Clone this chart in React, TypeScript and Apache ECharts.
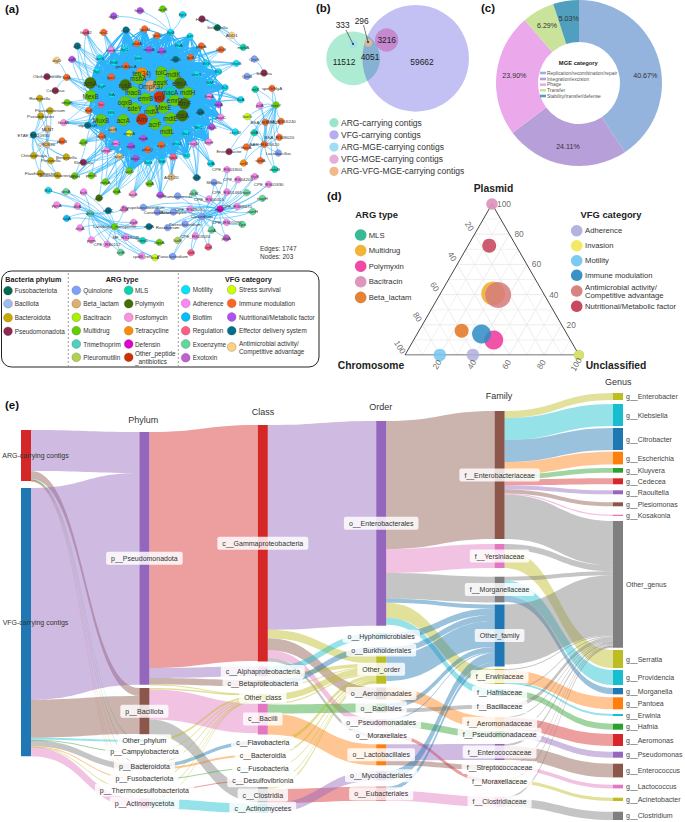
import React, { useEffect, useRef } from "react";
import * as echarts from "echarts";

const FONT = "Liberation Sans";

// ---------- (a) network ----------
const networkCategoryColors: Record<string, string> = {
  FUS: "#006B4F", BAC: "#9DBDEE", BCT: "#C9A800", PSE: "#8C2850",
  QUI: "#7F9FFF", BET: "#DDB070", BTR: "#A6F000", MUL: "#62D000", TRI: "#50D0C0", PLE: "#B0D050",
  MLS: "#00D5B0", POL: "#3F7000", FOS: "#FF90E0", TET: "#FF8C00", DEF: "#E000D0", OTH: "#D03000",
  MOT: "#00E5FF", ADH: "#FF85F5", BIO: "#00BFFF", REG: "#FF5C8A", EXE: "#5FD89A", EXT: "#C060D0",
  STR: "#CCFF00", IMM: "#FF6420", NUT: "#B050F0", EFF: "#00708A", ANT: "#FFD080",
};
// label, x, y (read at 3x of the panel), category, group
const networkNodes: [string, number, number, string, string][] = [
  ["tet(34)",425,220,"TET","h"],["tolC",484,217,"MUL","h"],["mdtK",520,224,"MUL","h"],["msbA",415,235,"MUL","h"],
  ["OmpK37",453,258,"BET","h"],["emrA",540,250,"POL","h"],["emrK",482,247,"MUL","h"],["rosB",376,255,"POL","h"],
  ["macA",510,278,"MLS","h"],["mdtH",563,278,"MUL","h"],["macB",400,277,"MUL","h"],["emrB",437,296,"MUL","h"],
  ["yojI",478,291,"OTH","h"],["emrD",524,302,"MUL","h"],["ArnF",553,311,"POL","h"],["oqxB",375,306,"MUL","h"],
  ["sdeY",404,325,"MUL","h"],["mdfA",455,333,"MUL","h"],["MexE",490,323,"MUL","h"],["rosA",547,347,"POL","h"],
  ["mdtE",512,355,"MUL","h"],["Amr",426,358,"OTH","h"],["acrA",370,360,"MUL","h"],["acrF",465,372,"MUL","h"],
  ["mdtL",501,394,"MUL","h"],["MexB",272,288,"MUL","h"],["MuxB",303,360,"MUL","h"],["arnA",271,249,"POL","h"],
  ["fur",303,314,"REG","r"],["rfaE",266,331,"IMM","r"],["flgF",306,259,"MOT","r"],["fliA",336,284,"MOT","r"],["fliN",334,338,"MOT","r"],
  ["clpV/tssH",263,376,"EFF","r"],["acrB",338,389,"BET","r"],["ompA",388,400,"STR","r"],["rcsB",305,408,"IMM","r"],["fepA",430,415,"NUT","r"],
  ["fimC",348,430,"ADH","r"],["entB",393,438,"NUT","r"],["cgsI",484,435,"IMM","r"],["phoQ",443,449,"IMM","r"],["cheZ",531,430,"MOT","r"],
  ["flaJ",558,399,"MOT","r"],["csgD",581,431,"ADH","r"],["flhC",596,381,"MOT","r"],["chuS",635,381,"NUT","r"],["vipA",601,336,"EFF","r"],
  ["iucA",656,314,"NUT","r"],["papC",662,352,"ADH","r"],["fimH",626,426,"ADH","r"],["cheW",706,396,"MOT","r"],["ompD",320,452,"ADH","r"],
  ["algU",358,469,"ANT","r"],["tepC",407,475,"NUT","r"],["flaG",445,487,"MOT","r"],["flhE",486,484,"MOT","r"],["rpoS",520,471,"REG","r"],
  ["fliC",560,466,"MOT","r"],["lafA",633,491,"MOT","r"],["ACT-20",514,531,"BET","r"],["tssB",590,533,"EFF","r"],["acrD",388,513,"MUL","r"],
  ["fepA2",258,97,"REG","r"],["rcsC",311,97,"IMM","r"],["cesT",378,90,"EFF","r"],["kpsM",434,87,"IMM","r"],["lpxD",471,107,"IMM","r"],
  ["flgB",512,97,"MOT","r"],["fliP",570,109,"MOT","r"],["sctC",232,138,"EFF","r"],["fimB",333,150,"ADH","r"],["flgC",373,149,"MOT","r"],
  ["gndA",411,131,"IMM","r"],["muxA",447,149,"NUT","r"],["acnB",485,153,"NUT","r"],["pbpA",604,138,"IMM","r"],["flhA",537,137,"MOT","r"],
  ["kdsB",663,149,"IMM","r"],["lptB",572,172,"IMM","r"],["esaG",527,178,"EFF","r"],["iroN",216,178,"NUT","r"],["lpxS",300,174,"MOT","r"],
  ["flhB",342,187,"MOT","r"],["fliH",415,175,"MOT","r"],["gmhA/lpcA",378,198,"IMM","r"],["fliG",619,191,"MOT","r"],["cheB",709,190,"MOT","r"],
  ["flgI",290,213,"MOT","r"],["fliQ",655,215,"MOT","r"],["lpxC",334,231,"IMM","r"],["cheY",590,222,"MOT","r"],["tufA",200,232,"IMM","r"],
  ["fliM",630,248,"MOT","r"],["fliZ",675,263,"MOT","r"],["flaA",722,299,"MOT","r"],["fimA",628,290,"ADH","r"],["pmrB",274,527,"MUL","r"],
  ["mrkA",316,546,"MUL","r"],["tetA",350,574,"MUL","r"],["fosB",399,582,"FOS","r"],["arnT",297,594,"POL","r"],["lpxA",449,551,"MUL","r"],
  ["luxS",481,585,"NUT","r"],["ompF",201,308,"MUL","r"],["fosA5",191,368,"FOS","r"],["acrE",250,427,"MUL","r"],["ugdH",224,528,"MUL","r"],
  ["Klebsiella",250,487,"PSE","r"],
  ["ahpC",341,48,"NUT","A"],["hemL",420,32,"NUT","A"],["acrR",488,27,"MUL","A"],["flgG",548,44,"MOT","A"],
  ["Hafnia",606,57,"PSE","T"],["Sebaldella",652,83,"FUS","T"],["AGD1",695,106,"ANT","T"],["mphA",730,142,"MLS","T"],
  ["QnrS",763,177,"QUI","S"],["Serratia",792,219,"PSE","S"],["QnrB",741,229,"QUI","S"],
  ["algD",170,181,"ANT","Q"],["Oleiharenicola",141,230,"PSE","Q"],["Cellulosa",166,272,"PSE","Q"],
  ["Riemerella",119,295,"BCT","L"],["Flavobacterium",150,332,"BCT","L"],["Pseudobacter",122,348,"BCT","L"],["MLNT",143,387,"BET","L"],
  ["ETAE_RS10930",100,405,"EFF","L"],["Q8CK36",140,434,"BET","L"],["Chitinophaga",101,467,"BCT","L"],["Prevotella",152,482,"BCT","L"],
  ["Bergeyella",199,471,"BCT","L"],["Flavihumibacter",121,520,"BCT","L"],["Sediminibacterium",173,526,"BCT","L"],["pbeB",186,423,"IMM","L"],
  ["tetX",766,268,"MLS","R"],["speG/hlyA",816,265,"IMM","R"],["pilA",779,316,"ADH","R"],["emrY",828,315,"MUL","R"],["katG",742,350,"STR","R"],
  ["BSA_RS16240",843,364,"IMM","R"],["BSA_RS15125",796,367,"IMM","R"],["nrfA",763,398,"MLS","R"],["BSA_RS08020",838,412,"IMM","R"],
  ["BAS_RS05620",793,433,"IMM","R"],["Lactobacillus",835,459,"QUI","R"],["msrA",739,441,"IMM","R"],["Enterobacter",687,455,"PSE","R"],
  ["sodA",781,482,"IMM","R"],["tetM",731,489,"TET","R"],["ermB",824,508,"MLS","R"],
  ["CPE_RS01800",681,509,"ADH","B"],["Shigella",642,547,"QUI","B"],["CPE_RS04205",714,539,"ADH","B"],["hlyB",764,530,"ADH","B"],
  ["CPE_RS01830",806,553,"ADH","B"],["CPE_RS01465",681,576,"ADH","B"],["nanI",740,578,"EXE","B"],["nagH",787,595,"EXE","B"],
  ["CPE_RS00415",627,597,"ADH","B"],["plcR",581,579,"EXE","B"],["Ruminococcus",533,588,"QUI","B"],["mprF",660,627,"DEF","B"],
  ["CPE_RS09470",711,619,"ADH","B"],["nanH",758,635,"EXE","B"],["CPE_RS05030",570,628,"ADH","B"],["Clostridium",605,650,"QUI","B"],
  ["Cuneatibacter",472,636,"QUI","B"],["Erysipelatoclostridium",430,622,"QUI","B"],["Anaerostipes",520,636,"QUI","B"],
  ["CPE_RS01070",680,667,"ADH","B"],["cpe",727,673,"EXE","B"],["Paeniclostridium",555,672,"QUI","B"],["colA",635,690,"EXE","B"],
  ["Roseburium",503,683,"QUI","B"],["pfoA",679,714,"EXT","B"],["lsaE",533,721,"PLE","B"],["CPE_RS03020",586,708,"ADH","B"],
  ["virR",625,741,"REG","B"],["virS",573,758,"REG","B"],["Paraclostridium",518,769,"QUI","B"],
  ["lexA",465,773,"STR","C"],["cpdB_ref",425,768,"ADH","C"],["oqxA",478,727,"MUL","C"],["ermC",428,722,"MLS","C"],["srtB",362,757,"EXE","C"],
  ["CPE_RS0112",321,733,"ADH","C"],["pgm",274,720,"ADH","C"],["MF_RS18245",378,712,"ADH","C"],["Lantibiotic_transporter",344,680,"MUL","C"],
  ["clpE",401,667,"ADH","C"],["esxA",447,680,"EFF","C"],["atoB",372,627,"ADH","C"],["esaC",325,632,"EFF","C"],["dfrG",270,640,"TRI","C"],
  ["dltA",232,618,"ADH","C"],["pgsA",170,615,"ADH","C"],["flhD",145,571,"MOT","C"],["prsA",198,575,"EXE","C"],["bsh",251,576,"ADH","C"],
  ["icaA",200,655,"BIO","C"],["efaA",240,684,"ADH","C"],
];
const clusterCentres: Record<string, string[]> = {
  A: ["flgB"], T: ["Sebaldella", "AGD1"], S: ["Serratia"], Q: ["tufA"],
  L: ["ETAE_RS10930", "Q8CK36"], R: ["emrY", "BAS_RS05620"],
  B: ["mprF", "Clostridium"], C: ["dfrG", "Lantibiotic_transporter"],
};
const networkStats = ["Edges: 1747", "Nodes: 203"];

// ---------- (b) venn ----------
const vennSets = ["ARG-carrying contigs", "VFG-carrying contigs", "ARG-MGE-carrying contigs", "VFG-MGE-carrying contigs", "ARG-VFG-MGE-carrying contigs"];
const vennLegendColors = ["#9AE6C8", "#B4AEF0", "#9FDDF5", "#E6AEDB", "#F0B98A"];
const vennCounts = ["11512", "4051", "3216", "59662", "333", "296"];
const vennCircles: [number, number, number, string][] = [
  [99.5, 175, 80.5, "#9AE6C8"],
  [287, 175, 160, "rgba(13,0,206,0.31)"],
  [200, 120, 35, "rgba(200,80,170,0.62)"],
  [100, 132, 12, "#9FDDF5"],
  [145, 128, 12, "#F0B98A"],
];

// ---------- (c) donut ----------
const mgeNames = ["Replication/recombination/repair", "Integration/excision", "Phage", "Transfer", "Stability/transfer/defense"];
const mgeValues = [40.67, 24.11, 23.9, 6.29, 5.03];
const mgeColors = ["#94B3DD", "#B79FDA", "#EBA9EC", "#C9E49A", "#519FBF"];

// ---------- (d) ternary: [chromosome, plasmid, unclassified] ----------
const argTypes = ["MLS", "Multidrug", "Polymyxin", "Bacitracin", "Beta_lactam"];
const argTernary = [[0, 0, 100], [28.9, 40.8, 30.3], [44, 10, 46], [0, 100, 0], [59.4, 16.1, 24.5]];
const argColors = ["#2FB58F", "#F0B030", "#F040A0", "#DD90BB", "#E37B2B"];
const argSizes = [10, 24, 19, 11.5, 14];
const vfgTypes = ["Adherence", "Invasion", "Motility", "Immune modulation", "Antimicrobial activity/\nCompetitive advantage", "Nutritional/Metabolic factor"];
const vfgTernary = [[61, 0, 39], [0, 0, 100], [80, 0, 20], [49, 13.9, 37], [26.6, 39.7, 33.7], [15.4, 72.4, 12.2]];
const vfgColors = ["#B0AEDC", "#F2E85F", "#75C6F0", "#2D8CC4", "#D67B7B", "#C43F55"];
const vfgSizes = [12.5, 10, 12.5, 19, 26, 14];
const ternaryTicks = [20, 40, 60, 80, 100];

// ---------- (e) sankey ----------
const C = { blue: "#1f77b4", orange: "#ff7f0e", green: "#2ca02c", red: "#d62728", purple: "#9467bd", brown: "#8c564b", pink: "#e377c2", gray: "#7f7f7f", olive: "#bcbd22", cyan: "#17becf" };
const sourceNames = ["ARG-carrying contigs", "VFG-carrying contigs"];
const sourceTops = [430, 488];
const sourceColors = [C.red, C.blue];
const phylumNames = ["p__Pseudomonadota", "p__Bacillota", "Other_phylum", "p__Campylobacterota", "p__Bacteroidota", "p__Fusobacteriota", "p__Thermodesulfobacteriota", "p__Actinomycetota"];
const phylumTops = [432, 688, 739.5, 751.5, 763.5, 778.3, 789.7, 798.5];
const phylumColors = [C.purple, C.brown, C.cyan, C.green, C.gray, C.orange, C.olive, C.pink];
const classNames = ["c__Gammaproteobacteria", "c__Alphaproteobacteria", "c__Betaproteobacteria", "Other_class", "c__Bacilli", "c__Flavobacteria", "c__Bacteroidia", "c__Fusobacteria", "c__Desulfovibrionia", "c__Clostridia", "c__Actinomycetes"];
const classTops = [425, 666.5, 680, 694, 703.3, 741, 754.5, 768, 780.5, 787, 803.5];
const classColors = [C.red, C.purple, C.brown, C.olive, C.pink, C.blue, C.orange, C.green, C.red, C.gray, C.cyan];
const orderNames = ["o__Enterobacterales", "o__Hyphomicrobiales", "o__Burkholderiales", "Other_order", "o__Aeromonadales", "o__Bacillales", "o__Pseudomonadales", "o__Moraxellales", "o__Lactobacillales", "o__Mycobacteriales", "o__Eubacteriales"];
const orderTops = [421, 633, 647, 655, 687.5, 703.5, 719, 734, 744.3, 771, 786.7];
const orderColors = [C.purple, C.cyan, C.blue, C.olive, C.brown, C.green, C.pink, C.gray, C.orange, C.purple, C.red];
const familyNames = ["f__Enterobacteriaceae", "f__Yersiniaceae", "f__Morganellaceae", "Other_family", "f__Erwiniaceae", "f__Hafniaceae", "f__Bacillaceae", "f__Aeromonadaceae", "f__Pseudomonadaceae", "f__Enterococcaceae", "f__Streptococcaceae", "f__Moraxellaceae", "f__Clostridiaceae"];
const familyTops = [411, 544, 576.7, 604.5, 669, 689, 704.7, 717, 731, 744, 765, 779.5, 796.7];
const familyColors = [C.brown, C.pink, C.gray, C.blue, C.olive, C.cyan, C.gray, C.orange, C.green, C.purple, C.brown, C.red, C.pink];
const genusNames = ["g__Enterobacter", "g__Klebsiella", "g__Citrobacter", "g__Escherichia", "g__Kluyvera", "g__Cedecea", "g__Raoultella", "g__Plesiomonas", "g__Kosakonia", "Other_genus", "g__Serratia", "g__Providencia", "g__Morganella", "g__Pantoea", "g__Erwinia", "g__Hafnia", "g__Aeromonas", "g__Pseudomonas", "g__Enterococcus", "g__Lactococcus", "g__Acinetobacter", "g__Clostridium"];
const genusTops = [393, 404, 428, 451.7, 468, 478.3, 490.3, 502.3, 514.7, 521, 650, 670, 688, 697.3, 714, 723.7, 734, 751.7, 763.7, 784.7, 797.7, 811.7];
const genusColors = [C.olive, C.cyan, C.blue, C.orange, C.green, C.red, C.purple, C.brown, C.pink, C.gray, C.olive, C.cyan, C.blue, C.orange, C.cyan, C.green, C.red, C.purple, C.brown, C.pink, C.olive, C.gray];

type Flow = [string, string, number];
const sourceFlows: Flow[] = [
  ["ARG-carrying contigs", "p__Pseudomonadota", 41], ["ARG-carrying contigs", "p__Bacillota", 8], ["ARG-carrying contigs", "Other_phylum", 0.4],
  ["ARG-carrying contigs", "p__Campylobacterota", 0.3], ["ARG-carrying contigs", "p__Bacteroidota", 0.5], ["ARG-carrying contigs", "p__Fusobacteriota", 0.2],
  ["ARG-carrying contigs", "p__Thermodesulfobacteriota", 0.2], ["ARG-carrying contigs", "p__Actinomycetota", 0.4],
  ["VFG-carrying contigs", "p__Pseudomonadota", 211.7], ["VFG-carrying contigs", "p__Bacillota", 38], ["VFG-carrying contigs", "Other_phylum", 2],
  ["VFG-carrying contigs", "p__Campylobacterota", 0.5], ["VFG-carrying contigs", "p__Bacteroidota", 6], ["VFG-carrying contigs", "p__Fusobacteriota", 0.5],
  ["VFG-carrying contigs", "p__Thermodesulfobacteriota", 0.5], ["VFG-carrying contigs", "p__Actinomycetota", 9],
];
const phylumFlows: Flow[] = [
  ["p__Pseudomonadota", "c__Gammaproteobacteria", 236], ["p__Pseudomonadota", "c__Alphaproteobacteria", 10], ["p__Pseudomonadota", "c__Betaproteobacteria", 6.5], ["p__Pseudomonadota", "Other_class", 0.2],
  ["p__Bacillota", "Other_class", 1.5], ["p__Bacillota", "c__Bacilli", 30], ["p__Bacillota", "c__Clostridia", 15],
  ["Other_phylum", "Other_class", 2.4], ["p__Campylobacterota", "Other_class", 0.8],
  ["p__Bacteroidota", "Other_class", 0.8], ["p__Bacteroidota", "c__Flavobacteria", 3.5], ["p__Bacteroidota", "c__Bacteroidia", 2],
  ["p__Fusobacteriota", "Other_class", 0.3], ["p__Fusobacteriota", "c__Fusobacteria", 0.4],
  ["p__Thermodesulfobacteriota", "Other_class", 0.2], ["p__Thermodesulfobacteriota", "c__Desulfovibrionia", 0.5],
  ["p__Actinomycetota", "Other_class", 0.4], ["p__Actinomycetota", "c__Actinomycetes", 9.5],
];
const classFlows: Flow[] = [
  ["c__Gammaproteobacteria", "o__Enterobacterales", 204.7], ["c__Gammaproteobacteria", "Other_order", 8.5], ["c__Gammaproteobacteria", "o__Aeromonadales", 12],
  ["c__Gammaproteobacteria", "o__Pseudomonadales", 7.7], ["c__Gammaproteobacteria", "o__Moraxellales", 3.6],
  ["c__Alphaproteobacteria", "o__Hyphomicrobiales", 6.5], ["c__Alphaproteobacteria", "Other_order", 3.5],
  ["c__Betaproteobacteria", "o__Burkholderiales", 6], ["c__Betaproteobacteria", "Other_order", 0.5],
  ["Other_class", "Other_order", 6.6],
  ["c__Bacilli", "Other_order", 1.2], ["c__Bacilli", "o__Bacillales", 9], ["c__Bacilli", "o__Lactobacillales", 21],
  ["c__Flavobacteria", "Other_order", 3.5], ["c__Bacteroidia", "Other_order", 2], ["c__Fusobacteria", "Other_order", 0.4], ["c__Desulfovibrionia", "Other_order", 0.5],
  ["c__Clostridia", "Other_order", 2], ["c__Clostridia", "o__Eubacteriales", 14],
  ["c__Actinomycetes", "o__Mycobacteriales", 9.5],
];
const orderFlows: Flow[] = [
  ["o__Enterobacterales", "f__Enterobacteriaceae", 128], ["o__Enterobacterales", "f__Yersiniaceae", 24], ["o__Enterobacterales", "f__Morganellaceae", 25.7],
  ["o__Enterobacterales", "Other_family", 4], ["o__Enterobacterales", "f__Erwiniaceae", 15], ["o__Enterobacterales", "f__Hafniaceae", 7],
  ["o__Hyphomicrobiales", "Other_family", 6.5], ["o__Burkholderiales", "Other_family", 6], ["Other_order", "Other_family", 26],
  ["o__Aeromonadales", "f__Aeromonadaceae", 12], ["o__Bacillales", "Other_family", 5], ["o__Bacillales", "f__Bacillaceae", 4],
  ["o__Pseudomonadales", "Other_family", 1], ["o__Pseudomonadales", "f__Pseudomonadaceae", 6.7], ["o__Moraxellales", "f__Moraxellaceae", 3.6],
  ["o__Lactobacillales", "f__Enterococcaceae", 16], ["o__Lactobacillales", "f__Streptococcaceae", 5],
  ["o__Mycobacteriales", "Other_family", 9.5], ["o__Eubacteriales", "Other_family", 4], ["o__Eubacteriales", "f__Clostridiaceae", 10],
];
const familyFlows: Flow[] = [
  ["f__Enterobacteriaceae", "g__Enterobacter", 7], ["f__Enterobacteriaceae", "g__Klebsiella", 22], ["f__Enterobacteriaceae", "g__Citrobacter", 22],
  ["f__Enterobacteriaceae", "g__Escherichia", 12.7], ["f__Enterobacteriaceae", "g__Kluyvera", 4.7], ["f__Enterobacteriaceae", "g__Cedecea", 6],
  ["f__Enterobacteriaceae", "g__Raoultella", 4], ["f__Enterobacteriaceae", "g__Plesiomonas", 4], ["f__Enterobacteriaceae", "g__Kosakonia", 1.3], ["f__Enterobacteriaceae", "Other_genus", 44.3],
  ["f__Yersiniaceae", "Other_genus", 6], ["f__Yersiniaceae", "g__Serratia", 18],
  ["f__Morganellaceae", "Other_genus", 4], ["f__Morganellaceae", "g__Providencia", 15], ["f__Morganellaceae", "g__Morganella", 6.3],
  ["Other_family", "Other_genus", 60],
  ["f__Erwiniaceae", "Other_genus", 1], ["f__Erwiniaceae", "g__Pantoea", 12], ["f__Erwiniaceae", "g__Erwinia", 2],
  ["f__Hafniaceae", "Other_genus", 1], ["f__Hafniaceae", "g__Hafnia", 6],
  ["f__Bacillaceae", "Other_genus", 4],
  ["f__Aeromonadaceae", "Other_genus", 0.7], ["f__Aeromonadaceae", "g__Aeromonas", 12],
  ["f__Pseudomonadaceae", "Other_genus", 0.7], ["f__Pseudomonadaceae", "g__Pseudomonas", 6],
  ["f__Enterococcaceae", "Other_genus", 2], ["f__Enterococcaceae", "g__Enterococcus", 13.7],
  ["f__Streptococcaceae", "Other_genus", 1], ["f__Streptococcaceae", "g__Lactococcus", 3.7],
  ["f__Moraxellaceae", "Other_genus", 0.3], ["f__Moraxellaceae", "g__Acinetobacter", 3.3],
  ["f__Clostridiaceae", "Other_genus", 1.7], ["f__Clostridiaceae", "g__Clostridium", 8.3],
];
const sankeyHeaders: [string, number, number][] = [["Phylum", 143.3, 420], ["Class", 263, 412.3], ["Order", 380.7, 407.3], ["Family", 499, 395.7], ["Genus", 618.3, 382.3]];

// ---------- legend of (a) ----------
const phylumLegend: [string, string][] = [["Fusobacteriota", "FUS"], ["Bacillota", "BAC"], ["Bacteroidota", "BCT"], ["Pseudomonadota", "PSE"]];
const argLegendA: [string, string][] = [["Quinolone", "QUI"], ["Beta_lactam", "BET"], ["Bacitracin", "BTR"], ["Multidrug", "MUL"], ["Trimethoprim", "TRI"], ["Pleuromutilin", "PLE"]];
const argLegendB: [string, string][] = [["MLS", "MLS"], ["Polymyxin", "POL"], ["Fosfomycin", "FOS"], ["Tetracycline", "TET"], ["Defensin", "DEF"], ["Other_peptide\n_antibiotics", "OTH"]];
const vfgLegendA: [string, string][] = [["Motility", "MOT"], ["Adherence", "ADH"], ["Biofilm", "BIO"], ["Regulation", "REG"], ["Exoenzyme", "EXE"], ["Exotoxin", "EXT"]];
const vfgLegendB: [string, string][] = [["Stress survival", "STR"], ["Immune modulation", "IMM"], ["Nutritional/Metabolic factor", "NUT"], ["Effector delivery system", "EFF"], ["Antimicrobial activity/\nCompetitive advantage", "ANT"]];

function buildOption() {
  const col = networkCategoryColors;
  // network
  const idx = (label: string) => networkNodes.findIndex((n) => n[0] === label);
  const hubs: number[] = [];
  const rings: number[] = [];
  networkNodes.forEach((n, i) => { if (n[4] === "h") hubs.push(i); if (n[4] === "r") rings.push(i); });
  const isFar = (i: number) => Math.hypot(networkNodes[i][1] - 460, networkNodes[i][2] - 300) > 235;
  const thin = { width: 0.55 };
  const links: any[] = [];
  hubs.forEach((h, a) => {
    rings.forEach((r, b) => {
      const far = isFar(r);
      if (far ? a % 4 === b % 4 : (a + b) % 3 !== 0) links.push(far ? { source: h, target: r, lineStyle: thin } : { source: h, target: r });
    });
    hubs.forEach((h2, c) => { if (c > a) links.push({ source: h, target: h2 }); });
  });
  const nearRings = rings.filter((r) => !isFar(r));
  nearRings.forEach((r, i) => {
    [19, 37].forEach((step) => links.push({ source: r, target: nearRings[(i + step) % nearRings.length] }));
  });
  networkNodes.forEach((n, i) => {
    const centres = clusterCentres[n[4]];
    if (!centres) return;
    centres.forEach((c) => { const j = idx(c); if (j >= 0 && j !== i) links.push({ source: i, target: j, lineStyle: thin }); });
  });
  const graphSeries = {
    type: "graph", coordinateSystem: "cartesian2d", xAxisIndex: 0, yAxisIndex: 0, silent: true, z: 2,
    data: networkNodes.map((n, i) => ({
      id: "n" + i, name: n[0], value: [n[1], n[2]],
      symbolSize: n[4] === "h" ? 11.5 : 6.8,
      itemStyle: { color: col[n[3]], borderColor: "#777", borderWidth: 0.3 },
      label: { show: true, position: "inside", formatter: n[0], color: "#333", fontSize: n[4] === "h" ? 6.4 : 4.4 },
    })),
    links,
    lineStyle: { color: "#2CB3FB", width: 1.2, opacity: 1, curveness: 0.14 },
    emphasis: { disabled: true },
  };

  // venn
  const vennSeries = {
    type: "scatter", xAxisIndex: 1, yAxisIndex: 1, silent: true, z: 2,
    data: vennCircles.map((c) => ({ value: [c[0], c[1]], symbolSize: (c[2] * 2) / 3, itemStyle: { color: c[3] } })),
  };

  // donut
  const pieSeries = {
    type: "pie", center: [579, 83], radius: [41, 83], startAngle: 90, clockwise: true, silent: true,
    data: mgeNames.map((name, i) => ({
      name, value: mgeValues[i], itemStyle: { color: mgeColors[i] },
      label: { offset: i === 0 ? [4, 12] : [0, 0] },
    })),
    label: { position: "inside", formatter: (p: any) => p.value.toFixed(2) + "%", fontSize: 7.1, color: "#333" },
    labelLine: { show: false },
  };

  // ternary
  const proj = (c: number, p: number, u: number) => {
    const s = c + p + u;
    return [(u + p / 2) / s, p / s];
  };
  const ternLine = (a: number[], b: number[], color: string, width: number) => ({
    type: "line", xAxisIndex: 2, yAxisIndex: 2, silent: true, showSymbol: false, symbol: "none", z: 1, animation: false,
    data: [a, b], lineStyle: { color, width },
  });
  const ternGrid: any[] = [];
  for (let k = 10; k < 100; k += 10) {
    const lineColor = "#ebebeb";
    ternGrid.push(ternLine(proj(100 - k, k, 0), proj(0, k, 100 - k), lineColor, k % 20 === 0 ? 1 : 0.7));
    ternGrid.push(ternLine(proj(100 - k, 0, k), proj(0, 100 - k, k), lineColor, k % 20 === 0 ? 1 : 0.7));
    ternGrid.push(ternLine(proj(k, 100 - k, 0), proj(k, 0, 100 - k), lineColor, k % 20 === 0 ? 1 : 0.7));
  }
  ternGrid.push(ternLine(proj(100, 0, 0), proj(0, 0, 100), "#444", 1));
  ternGrid.push(ternLine(proj(0, 0, 100), proj(0, 100, 0), "#444", 1));
  ternGrid.push(ternLine(proj(0, 100, 0), proj(100, 0, 0), "#444", 1));
  const ternPoints = (vals: number[][], colors: string[], sizes: number[], opacity: number) => ({
    type: "scatter", xAxisIndex: 2, yAxisIndex: 2, silent: true, z: 3,
    data: vals.map((v, i) => ({ value: proj(v[0], v[1], v[2]), symbolSize: sizes[i], itemStyle: { color: colors[i], opacity } })),
  });
  const ternLabels = (fn: (t: number) => number[], rotate: number, offset: number[], align: string) => ({
    type: "scatter", xAxisIndex: 2, yAxisIndex: 2, silent: true, z: 4, symbolSize: 1,
    itemStyle: { color: "rgba(0,0,0,0)" },
    data: ternaryTicks.map((t) => ({ value: fn(t), name: String(t) })),
    label: { show: true, position: "inside", formatter: "{b}", rotate, offset, align, fontSize: 8.4, color: "#444" },
  });

  // sankey
  const allNames = [sourceNames, phylumNames, classNames, orderNames, familyNames, genusNames];
  const allTops = [sourceTops, phylumTops, classTops, orderTops, familyTops, genusTops];
  const allColors = [sourceColors, phylumColors, classColors, orderColors, familyColors, genusColors];
  const allFlows = [...sourceFlows, ...phylumFlows, ...classFlows, ...orderFlows, ...familyFlows];
  const colorOf: Record<string, string> = {};
  allNames.forEach((ns, i) => ns.forEach((n, j) => { colorOf[n] = allColors[i][j]; }));
  const throughput = (n: string) => Math.max(
    allFlows.filter((f) => f[0] === n).reduce((s, f) => s + f[2], 0),
    allFlows.filter((f) => f[1] === n).reduce((s, f) => s + f[2], 0));
  const sankeyHeight = Math.max(...allNames.map((ns) => ns.reduce((s, n) => s + throughput(n), 0)));
  const sankeyNodes: any[] = [];
  allNames.forEach((ns, c) => ns.forEach((n, j) => {
    const base: any = {
      name: n, localY: allTops[c][j] / sankeyHeight,
      itemStyle: { color: allColors[c][j], opacity: 1 },
    };
    if (c === 5) {
      base.label = { position: "right", distance: 3, backgroundColor: "transparent", padding: 0, color: "#444" };
    } else if (c === 0) {
      base.label = { position: "inside", offset: [9.5, 0], backgroundColor: "transparent", padding: 0 };
    }
    sankeyNodes.push(base);
  }));
  const sankeySeries = {
    type: "sankey", left: 21, top: 0, width: 602, height: sankeyHeight, nodeWidth: 10, nodeGap: 0, layoutIterations: 0,
    nodeAlign: "justify", draggable: false, silent: true, z: 5,
    emphasis: { disabled: true },
    data: sankeyNodes,
    links: allFlows.map((f) => ({ source: f[0], target: f[1], value: f[2], lineStyle: { color: colorOf[f[1]], opacity: 0.45 } })),
    lineStyle: { curveness: 0.5 },
    itemStyle: { borderWidth: 0 },
    label: {
      show: true, position: "inside", fontSize: 7, color: "#333",
      backgroundColor: "rgba(255,255,255,0.82)", borderRadius: 2, padding: [3, 5],
    },
  };

  // graphics
  const g: any[] = [];
  const txt = (x: number, y: number, text: string, o: any = {}) => g.push({
    type: "text", x, y, silent: true, z: 20,
    style: { text, fontFamily: FONT, fontSize: o.size ?? 7, fontWeight: o.bold ? "bold" : "normal", fill: o.fill ?? "#333", textAlign: o.align ?? "left", textVerticalAlign: "middle", lineHeight: o.lh },
  });
  const dot = (x: number, y: number, r: number, fill: string, opacity = 1, stroke = 0) => g.push({
    type: "circle", x, y, silent: true, z: 19, shape: { r }, style: { fill, opacity, stroke: "#555", lineWidth: stroke },
  });
  // panel letters
  ([["(a)", 5, 9], ["(b)", 316, 8], ["(c)", 481, 8], ["(d)", 327, 196], ["(e)", 5, 405]] as [string, number, number][]).forEach(([s, x, y]) => txt(x, y, s, { size: 11.5, bold: true, fill: "#111" }));
  // network stats
  networkStats.forEach((s, i) => txt(260, 248 + i * 8, s, { size: 6.5 }));
  // legend box of (a)
  g.push({ type: "rect", silent: true, z: 18, shape: { x: 1.5, y: 271, width: 317.5, height: 96, r: 10 }, style: { fill: "#fff", stroke: "#222", lineWidth: 1 } });
  [68.3, 178.3].forEach((x) => g.push({ type: "line", silent: true, z: 19, shape: { x1: x, y1: 273, x2: x, y2: 366 }, style: { stroke: "#777", lineWidth: 0.7, lineDash: [2, 2] } }));
  txt(33.3, 279, "Bacteria phylum", { size: 7.2, bold: true, align: "center", fill: "#222" });
  txt(122, 279, "ARG type", { size: 7.2, bold: true, align: "center", fill: "#222" });
  txt(248.3, 279, "VFG category", { size: 7.2, bold: true, align: "center", fill: "#222" });
  const legendCol = (items: [string, string][], dx: number, tx: number, ys: number[]) => items.forEach(([s, k], i) => {
    dot(dx, ys[i], 4.4, col[k], 1, 0.3);
    txt(tx, ys[i], s, { size: 6.4, lh: 8 });
  });
  legendCol(phylumLegend, 8, 14.7, [290.7, 303.7, 317.7, 331.3]);
  const rowsA = [290.3, 303.7, 317.3, 330.7, 344, 357.3];
  legendCol(argLegendA, 76.3, 83.3, rowsA);
  legendCol(argLegendB, 128.7, 135, rowsA);
  const rowsB = [289.7, 303.3, 317, 330.7, 344, 357.7];
  legendCol(vfgLegendA, 185.7, 192.7, rowsB);
  legendCol(vfgLegendB, 231.7, 239, [289.7, 303.3, 317, 330.7, 347]);
  // venn texts
  const vennTextPos = [[344, 61.7], [370, 56.7], [386.7, 40], [422, 62], [342.7, 25.3], [361.7, 20.7]];
  vennCounts.forEach((s, i) => txt(vennTextPos[i][0], vennTextPos[i][1], s, { size: 8.4, align: "center", fill: "#222" }));
  [[346, 30, 353, 44], [363.5, 25, 368, 42]].forEach(([x1, y1, x2, y2]) => {
    g.push({ type: "line", silent: true, z: 19, shape: { x1, y1, x2, y2 }, style: { stroke: "#222", lineWidth: 0.6 } });
    g.push({ type: "circle", silent: true, z: 19, x: x2, y: y2, shape: { r: 0.9 }, style: { fill: "#222" } });
  });
  vennSets.forEach((s, i) => {
    const y = 122.7 + i * 12.15;
    dot(334, y, 4.6, vennLegendColors[i]);
    txt(341, y, s, { size: 8.5 });
  });
  // donut centre legend
  txt(578.3, 63.3, "MGE category", { size: 5.8, bold: true, align: "center", fill: "#222" });
  const mgeY = [73, 79, 84.7, 90.3, 96];
  mgeNames.forEach((s, i) => {
    g.push({ type: "rect", silent: true, z: 19, shape: { x: 540, y: mgeY[i] - 1.3, width: 6, height: 2.6 }, style: { fill: mgeColors[i] } });
    txt(547, mgeY[i], s, { size: 4.9, fill: "#555" });
  });
  // ternary corner names and legends
  txt(493.5, 188, "Plasmid", { size: 10.3, bold: true, align: "center", fill: "#222" });
  txt(371, 365, "Chromosome", { size: 10.3, bold: true, align: "center", fill: "#222" });
  txt(616, 365, "Unclassified", { size: 10.3, bold: true, align: "center", fill: "#222" });
  txt(376.7, 214, "ARG type", { size: 9.4, bold: true, align: "center", fill: "#222" });
  txt(611, 214, "VFG category", { size: 9.4, bold: true, align: "center", fill: "#222" });
  argTypes.forEach((s, i) => {
    const y = 235 + i * 15.6;
    dot(360.7, y, 5.8, argColors[i], 0.95);
    txt(368.7, y, s, { size: 7.7 });
  });
  const vfgY = [230.7, 245.7, 260.7, 275.3, 291, 306.3];
  vfgTypes.forEach((s, i) => {
    dot(576.7, vfgY[i], 5.8, vfgColors[i], 0.95);
    txt(585, vfgY[i], s, { size: 7.7, lh: 8 });
  });
  // sankey headers
  sankeyHeaders.forEach(([s, x, y]) => txt(x, y, s, { size: 9, align: "center" }));

  const hiddenAxis = (gridIndex: number, min: number, max: number, inverse = false) => ({ gridIndex, type: "value", min, max, inverse, show: false });
  return {
    animation: false,
    textStyle: { fontFamily: FONT },
    grid: [
      { left: 0, top: 0, width: 320, height: 260 },
      { left: 320, top: 0, width: 120, height: 120 },
      { left: 405, top: 204, width: 174, height: 151 },
    ],
    xAxis: [hiddenAxis(0, 0, 960), hiddenAxis(1, 0, 360), hiddenAxis(2, 0, 1)],
    yAxis: [hiddenAxis(0, 0, 780, true), hiddenAxis(1, 0, 360, true), hiddenAxis(2, 0, 1)],
    series: [
      graphSeries, vennSeries, pieSeries, ...ternGrid,
      ternPoints(argTernary, argColors, argSizes, 0.9), ternPoints(vfgTernary, vfgColors, vfgSizes, 0.85),
      ternLabels((t) => proj(t, 100 - t, 0), -58, [-9.4, 0], "center"),
      ternLabels((t) => proj(0, t, 100 - t), 0, [5, 0], "left"),
      ternLabels((t) => proj(100 - t, 0, t), 58, [-9.6, 2.5], "center"),
      sankeySeries,
    ],
    graphic: { elements: g },
  };
}

export default function App() {
  const ref = useRef<HTMLDivElement>(null);
  useEffect(() => {
    document.body.style.margin = "0";
    const chart = echarts.init(ref.current!, undefined, { renderer: "svg" });
    chart.setOption(buildOption() as any);
    return () => chart.dispose();
  }, []);
  return <div ref={ref} style={{ width: 685, height: 822, background: "#fff" }} />;
}
